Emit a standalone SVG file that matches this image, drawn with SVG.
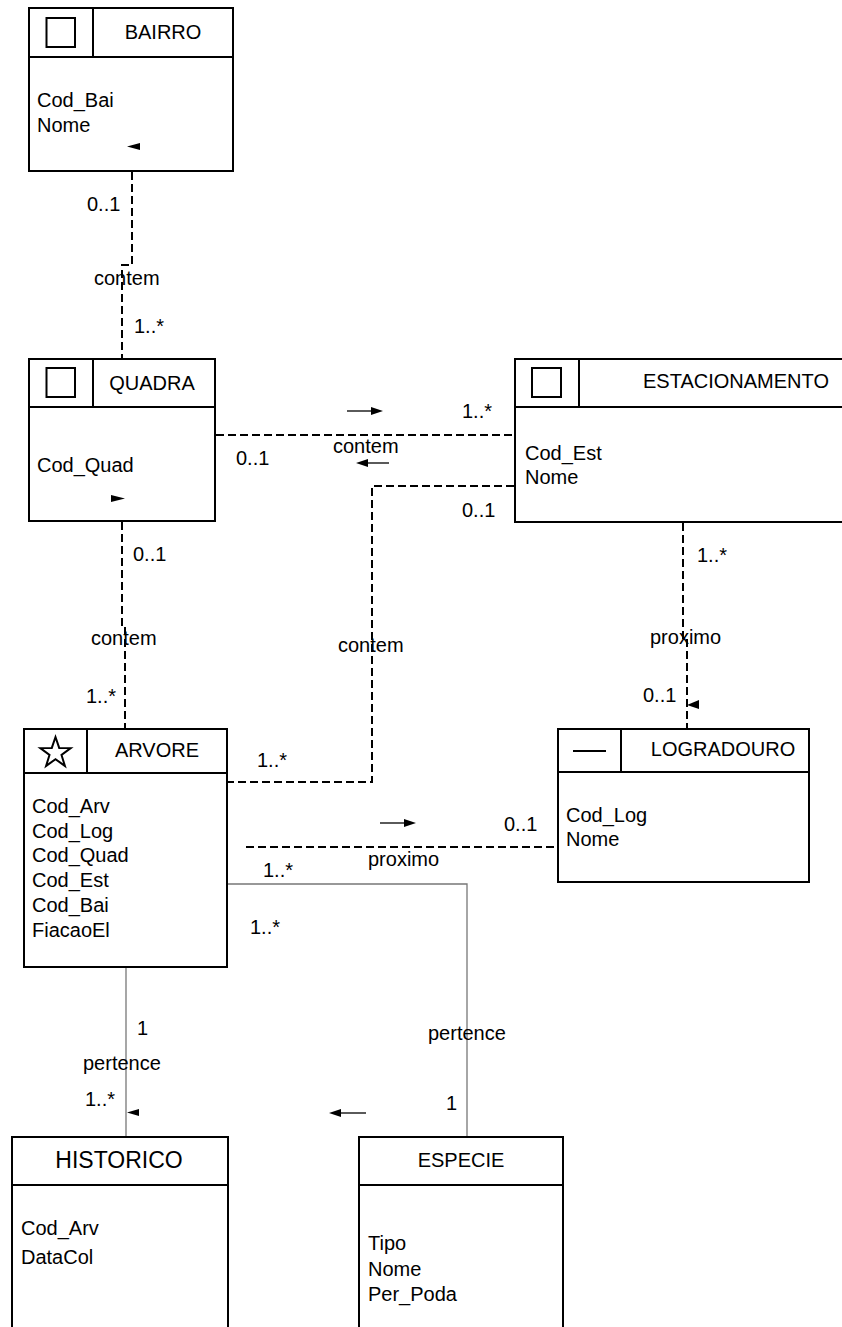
<svg xmlns="http://www.w3.org/2000/svg" width="842" height="1327" viewBox="0 0 842 1327">
<style>
text{font-family:"Liberation Sans",Arial,sans-serif;font-size:20px;fill:#000}
.box{fill:#fff;stroke:#000;stroke-width:2}
.sep{stroke:#000;stroke-width:2;fill:none}
.ic{fill:none;stroke:#000;stroke-width:2}
.dash{fill:none;stroke:#000;stroke-width:2;stroke-dasharray:8 4}
.solid{fill:none;stroke:#777;stroke-width:1.3}
.arl{stroke:#000;stroke-width:1.3;fill:none}
.tri{fill:#000}
.mid{text-anchor:middle}
</style>
<g id="bairro">
  <rect class="box" x="29" y="8" width="204" height="163"/>
  <line class="sep" x1="29" y1="57" x2="233" y2="57"/>
  <line class="sep" x1="93" y1="8" x2="93" y2="57"/>
  <rect class="ic" x="46.5" y="18" width="28.5" height="29"/>
  <text class="mid" x="163" y="39">BAIRRO</text>
  <text x="37" y="107">Cod_Bai</text>
  <text x="37" y="132">Nome</text>
</g>
<g id="quadra">
  <rect class="box" x="29" y="359" width="186" height="162"/>
  <line class="sep" x1="29" y1="407" x2="215" y2="407"/>
  <line class="sep" x1="93" y1="359" x2="93" y2="407"/>
  <rect class="ic" x="46.5" y="368" width="28.5" height="29"/>
  <text class="mid" x="152" y="390">QUADRA</text>
  <text x="37" y="472">Cod_Quad</text>
</g>
<g id="estacionamento">
  <rect class="box" x="515" y="359" width="340" height="163"/>
  <line class="sep" x1="515" y1="407" x2="842" y2="407"/>
  <line class="sep" x1="579" y1="359" x2="579" y2="407"/>
  <rect class="ic" x="532" y="368" width="29" height="29"/>
  <text class="mid" x="736" y="388">ESTACIONAMENTO</text>
  <text x="525" y="460">Cod_Est</text>
  <text x="525" y="484">Nome</text>
</g>
<g id="arvore">
  <rect class="box" x="24" y="729" width="203" height="238"/>
  <line class="sep" x1="24" y1="773" x2="227" y2="773"/>
  <line class="sep" x1="87" y1="729" x2="87" y2="773"/>
  <polygon class="ic" stroke-width="1.5" points="55.5,737 59.2,747.9 70.7,748.1 61.5,755 64.9,765.9 55.5,759.3 46.1,765.9 49.5,755 40.3,748.1 51.8,747.9"/>
  <text class="mid" x="157" y="757">ARVORE</text>
  <text x="32" y="813">Cod_Arv</text>
  <text x="32" y="838">Cod_Log</text>
  <text x="32" y="862">Cod_Quad</text>
  <text x="32" y="887">Cod_Est</text>
  <text x="32" y="912">Cod_Bai</text>
  <text x="32" y="937">FiacaoEl</text>
</g>
<g id="logradouro">
  <rect class="box" x="558" y="729" width="251" height="153"/>
  <line class="sep" x1="558" y1="772" x2="809" y2="772"/>
  <line class="sep" x1="621" y1="729" x2="621" y2="772"/>
  <line class="sep" x1="573" y1="751" x2="606" y2="751" stroke-width="1.5"/>
  <text class="mid" x="723" y="756">LOGRADOURO</text>
  <text x="566" y="822">Cod_Log</text>
  <text x="566" y="846">Nome</text>
</g>
<g id="historico">
  <rect class="box" x="12" y="1137" width="216" height="200"/>
  <line class="sep" x1="12" y1="1185" x2="228" y2="1185"/>
  <text class="mid" x="119" y="1168" style="font-size:23px">HISTORICO</text>
  <text x="21" y="1235">Cod_Arv</text>
  <text x="21" y="1264">DataCol</text>
</g>
<g id="especie">
  <rect class="box" x="359" y="1137" width="204" height="200"/>
  <line class="sep" x1="359" y1="1185" x2="563" y2="1185"/>
  <text class="mid" x="461" y="1167">ESPECIE</text>
  <text x="368" y="1250">Tipo</text>
  <text x="368" y="1276">Nome</text>
  <text x="368" y="1301">Per_Poda</text>
</g>
<g id="connectors">
  <polyline class="dash" points="132,172 132,265 122,265 122,358"/>
  <polyline class="dash" points="122,522 122,627 125,627 125,728"/>
  <line class="dash" x1="216" y1="435" x2="514" y2="435"/>
  <polyline class="dash" points="514,486 372,486 372,782 228,782"/>
  <polyline class="dash" points="683,523 683,638 687,638 687,728"/>
  <line class="dash" x1="246" y1="847" x2="557" y2="847"/>
  <polyline class="solid" points="228,884 467,884 467,1136"/>
  <line class="solid" x1="126" y1="968" x2="126" y2="1136"/>
  <line class="arl" x1="347" y1="411" x2="374" y2="411"/><polygon class="tri" points="383,411 371,407 371,415"/>
  <line class="arl" x1="364" y1="463" x2="389" y2="463"/><polygon class="tri" points="356,463 368,459 368,467"/>
  <line class="arl" x1="380" y1="823" x2="407" y2="823"/><polygon class="tri" points="416,823 404,819 404,827"/>
  <line class="arl" x1="337" y1="1113" x2="366" y2="1113"/><polygon class="tri" points="329,1113 341,1109 341,1117"/>
  <polygon class="tri" points="127,146.5 140,143 140,150"/>
  <polygon class="tri" points="125,498.5 111,495 111,502"/>
  <polygon class="tri" points="687,705 699,700 699,709"/>
  <polygon class="tri" points="127,1112.5 139,1109 139,1116"/>
  <text x="87" y="211">0..1</text>
  <text x="94" y="285">contem</text>
  <text x="134" y="333">1..*</text>
  <text x="236" y="465">0..1</text>
  <text x="333" y="453">contem</text>
  <text x="462" y="418">1..*</text>
  <text x="462" y="517">0..1</text>
  <text x="133" y="561">0..1</text>
  <text x="91" y="645">contem</text>
  <text x="86" y="703">1..*</text>
  <text x="338" y="652">contem</text>
  <text x="257" y="767">1..*</text>
  <text x="697" y="562">1..*</text>
  <text x="650" y="644">proximo</text>
  <text x="643" y="702">0..1</text>
  <text x="504" y="831">0..1</text>
  <text x="368" y="866">proximo</text>
  <text x="263" y="877">1..*</text>
  <text x="250" y="934">1..*</text>
  <text x="137" y="1035">1</text>
  <text x="83" y="1070">pertence</text>
  <text x="85" y="1106">1..*</text>
  <text x="428" y="1040">pertence</text>
  <text x="446" y="1110">1</text>
</g>
</svg>
